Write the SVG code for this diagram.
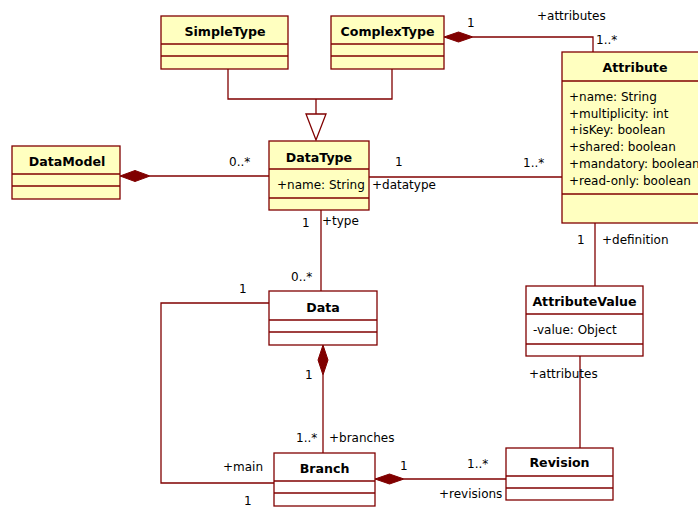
<svg xmlns="http://www.w3.org/2000/svg" width="698" height="507" viewBox="0 0 698 507">
<style>
.box{fill:#FFFFC0;stroke:#800000;stroke-width:1.3}
.wbox{fill:#FFFFFF;stroke:#800000;stroke-width:1.3}
.div{stroke:#800000;stroke-width:1.3;fill:none}
.ln{stroke:#800000;stroke-width:1.3;fill:none}
.dia{fill:#800000;stroke:#800000;stroke-width:1}
.tri{fill:#FFFFFF;stroke:#800000;stroke-width:1.3}
.t{font-family:"DejaVu Sans",Verdana,sans-serif;font-size:12.6px;font-weight:bold;fill:#000;text-anchor:middle}
.a{font-family:"DejaVu Sans",Verdana,sans-serif;font-size:12px;fill:#000}
</style>
<rect width="698" height="507" fill="#FFFFFF"/>
<g id="connectors">
<polyline class="ln" points="228,69 228,99 392,99 392,69"/>
<line class="ln" x1="316" y1="99" x2="316" y2="114"/>
<polygon class="tri" points="306,114 326,114 316,140"/>
<polyline class="ln" points="473,37 593,37 593,52"/>
<polygon class="dia" points="444,37 458.5,32 473,37 458.5,42"/>
<line class="ln" x1="150" y1="176" x2="269" y2="176"/>
<polygon class="dia" points="120,176 135,170.5 150,176 135,181.5"/>
<line class="ln" x1="369" y1="177" x2="562" y2="177"/>
<line class="ln" x1="321" y1="210" x2="321" y2="291"/>
<line class="ln" x1="595" y1="223" x2="595" y2="286"/>
<line class="ln" x1="580" y1="356" x2="580" y2="448"/>
<line class="ln" x1="323" y1="375" x2="323" y2="453"/>
<polygon class="dia" points="323,345 328,360 323,375 318,360"/>
<polyline class="ln" points="269,303 161,303 161,483 274,483"/>
<line class="ln" x1="404" y1="479" x2="506" y2="479"/>
<polygon class="dia" points="375,479 389.5,474 404,479 389.5,484"/>
<text class="a" x="467" y="27">1</text>
<text class="a" x="537" y="20">+attributes</text>
<text class="a" x="596" y="44">1..*</text>
<text class="a" x="523" y="167">1..*</text>
<text class="a" x="577" y="244">1</text>
<text class="a" x="602" y="244">+definition</text>
<text class="a" x="229" y="166">0..*</text>
<text class="a" x="395" y="166">1</text>
<text class="a" x="372" y="189">+datatype</text>
<text class="a" x="302" y="227">1</text>
<text class="a" x="322" y="225">+type</text>
<text class="a" x="291" y="281">0..*</text>
<text class="a" x="239" y="293">1</text>
<text class="a" x="305" y="379">1</text>
<text class="a" x="296" y="442">1..*</text>
<text class="a" x="329" y="442">+branches</text>
<text class="a" x="223" y="471">+main</text>
<text class="a" x="244" y="505">1</text>
<text class="a" x="400" y="470">1</text>
<text class="a" x="467" y="468">1..*</text>
<text class="a" x="439" y="498">+revisions</text>
<text class="a" x="529" y="378">+attributes</text>
</g>
<g id="SimpleType">
<rect class="box" x="161" y="16" width="127" height="53"/>
<line class="div" x1="161" y1="44" x2="288" y2="44"/>
<line class="div" x1="161" y1="56" x2="288" y2="56"/>
<text class="t" x="225" y="36">SimpleType</text>
</g>
<g id="ComplexType">
<rect class="box" x="331" y="16" width="113" height="53"/>
<line class="div" x1="331" y1="44" x2="444" y2="44"/>
<line class="div" x1="331" y1="56" x2="444" y2="56"/>
<text class="t" x="387.5" y="36">ComplexType</text>
</g>
<g id="Attribute">
<rect class="box" x="562" y="52" width="146" height="171"/>
<line class="div" x1="562" y1="81" x2="708" y2="81"/>
<line class="div" x1="562" y1="194" x2="708" y2="194"/>
<text class="t" x="635" y="72">Attribute</text>
<text class="a" x="569" y="101">+name: String</text>
<text class="a" x="569" y="117.7">+multiplicity: int</text>
<text class="a" x="569" y="134.4">+isKey: boolean</text>
<text class="a" x="569" y="151.1">+shared: boolean</text>
<text class="a" x="569" y="167.8">+mandatory: boolean</text>
<text class="a" x="569" y="184.5">+read-only: boolean</text>
</g>
<g id="DataModel">
<rect class="box" x="12" y="146" width="108" height="53"/>
<line class="div" x1="12" y1="174" x2="120" y2="174"/>
<line class="div" x1="12" y1="186" x2="120" y2="186"/>
<text class="t" x="67" y="166">DataModel</text>
</g>
<g id="DataType">
<rect class="box" x="269" y="141" width="100" height="69"/>
<line class="div" x1="269" y1="169" x2="369" y2="169"/>
<line class="div" x1="269" y1="198" x2="369" y2="198"/>
<text class="t" x="319" y="161.5">DataType</text>
<text class="a" x="277" y="189">+name: String</text>
</g>
<g id="Data">
<rect class="wbox" x="269" y="291" width="108" height="54"/>
<line class="div" x1="269" y1="320" x2="377" y2="320"/>
<line class="div" x1="269" y1="332" x2="377" y2="332"/>
<text class="t" x="323" y="311.5">Data</text>
</g>
<g id="AttributeValue">
<rect class="wbox" x="526" y="286" width="117" height="70"/>
<line class="div" x1="526" y1="314" x2="643" y2="314"/>
<line class="div" x1="526" y1="344" x2="643" y2="344"/>
<text class="t" x="584.5" y="305.5">AttributeValue</text>
<text class="a" x="533" y="334">-value: Object</text>
</g>
<g id="Branch">
<rect class="wbox" x="274" y="453" width="101" height="53"/>
<line class="div" x1="274" y1="481" x2="375" y2="481"/>
<line class="div" x1="274" y1="493" x2="375" y2="493"/>
<text class="t" x="324.5" y="472.5">Branch</text>
</g>
<g id="Revision">
<rect class="wbox" x="506" y="448" width="107" height="52"/>
<line class="div" x1="506" y1="476" x2="613" y2="476"/>
<line class="div" x1="506" y1="488" x2="613" y2="488"/>
<text class="t" x="559.5" y="466.5">Revision</text>
</g>
</svg>
